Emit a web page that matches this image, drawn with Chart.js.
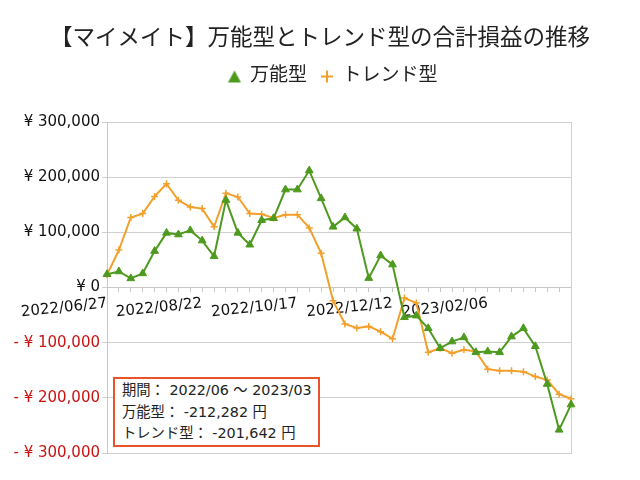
<!DOCTYPE html>
<html>
<head>
<meta charset="utf-8">
<script src="https://cdn.jsdelivr.net/npm/chart.js@4"></script>
<style>
  body { margin: 0; background: #fff; }
  #wrap { position: relative; width: 640px; height: 480px; }
  #note {
    position: absolute; left: 113px; top: 377px; width: 207px; height: 70px;
    box-sizing: border-box;
    border: 2px solid #e8532a; background: #fff;
    font-family: "DejaVu Sans", "Noto Sans CJK JP", sans-serif; font-size: 14.3px;
    color: #222; line-height: 21.5px; padding: 1px 0 0 7px; white-space: nowrap;
  }
</style>
</head>
<body>
<div id="wrap">
  <canvas id="c" width="640" height="480"></canvas>
  <div id="note">
    期間： 2022/06 ～ 2023/03<br>
    万能型： -212,282 円<br>
    トレンド型： -201,642 円
  </div>
</div>
<script>
var weeks = [
  "2022/06/27", "2022/07/04", "2022/07/11", "2022/07/18", "2022/07/25", "2022/08/01", "2022/08/08", "2022/08/15",
  "2022/08/22", "2022/08/29", "2022/09/05", "2022/09/12", "2022/09/19", "2022/09/26", "2022/10/03", "2022/10/10",
  "2022/10/17", "2022/10/24", "2022/10/31", "2022/11/07", "2022/11/14", "2022/11/21", "2022/11/28", "2022/12/05",
  "2022/12/12", "2022/12/19", "2022/12/26", "2023/01/02", "2023/01/09", "2023/01/16", "2023/01/23", "2023/01/30",
  "2023/02/06", "2023/02/13", "2023/02/20", "2023/02/27", "2023/03/06", "2023/03/13", "2023/03/20", "2023/03/27"
];

// 万能型
var allround = [
  24000, 29000, 16500, 25500, 66000, 99000, 96000, 103500, 85000, 56500,
  158500, 99000, 77500, 122000, 125500, 177500, 177500, 212000, 161500, 110000,
  127000, 106500, 17000, 58000, 41500, -54000, -51000, -74000, -110000, -98000,
  -90500, -117500, -116000, -117500, -89000, -74000, -106500, -175000, -258000, -212282
];

// トレンド型
var trend = [
  23000, 68000, 127000, 134000, 165000, 188000, 158000, 146000, 143000, 110000,
  171000, 164000, 134000, 133000, 126000, 132000, 132000, 108000, 62000, -24000,
  -66000, -73500, -70500, -80000, -93000, -19000, -28000, -117500, -110000, -119000,
  -113000, -116000, -148000, -151000, -151000, -152500, -161500, -167500, -193500, -201642
];

var yTicks = [-300000, -200000, -100000, 0, 100000, 200000, 300000];

var GREEN = "#4e9a1f";
var ORANGE = "#f2a02b";
var FONT = "'DejaVu Sans', 'Noto Sans CJK JP', sans-serif";

// small legend icons (the built-in cross is much bigger than the triangle)
function icon(kind, color) {
  var c = document.createElement("canvas");
  c.width = 14; c.height = 14;
  var g = c.getContext("2d");
  g.fillStyle = color; g.strokeStyle = color;
  if (kind === "tri") {
    g.beginPath(); g.moveTo(7, 1); g.lineTo(13.5, 13); g.lineTo(0.5, 13); g.closePath(); g.fill();
  } else {
    g.lineWidth = 2;
    g.beginPath(); g.moveTo(1, 7); g.lineTo(13, 7); g.moveTo(7, 1); g.lineTo(7, 13); g.stroke();
  }
  return c;
}
var legendIcons = [icon("tri", GREEN), icon("cross", ORANGE)];

// extra room under the legend, legend a bit right of centre
var legendTweak = {
  id: "legendTweak",
  beforeInit: function (chart) {
    var fit = chart.legend.fit;
    chart.legend.fit = function () {
      fit.call(this);
      this.height += 26;
    };
  },
  afterLayout: function (chart) {
    chart.legend.left += 13;
    chart.legend.right += 13;
  }
};

new Chart(document.getElementById("c"), {
  type: "line",
  data: {
    labels: weeks,
    datasets: [
      {
        label: "万能型",
        data: allround,
        borderColor: GREEN,
        backgroundColor: GREEN,
        borderWidth: 2,
        pointStyle: "triangle",
        pointRadius: 4.5,
        pointBorderWidth: 1,
        tension: 0
      },
      {
        label: "トレンド型",
        data: trend,
        borderColor: ORANGE,
        backgroundColor: ORANGE,
        borderWidth: 2,
        pointStyle: "cross",
        pointRadius: 3.5,
        pointBorderWidth: 1.5,
        tension: 0
      }
    ]
  },
  options: {
    responsive: false,
    animation: false,
    layout: { padding: { left: 0, right: 0, bottom: 27, top: 0 } },
    plugins: {
      title: {
        display: true,
        text: "【マイメイト】万能型とトレンド型の合計損益の推移",
        color: "#222",
        font: { family: FONT, size: 22.5, weight: "normal" },
        padding: { top: 26, bottom: 0 }
      },
      legend: {
        display: true,
        labels: {
          usePointStyle: true,
          boxWidth: 12,
          boxHeight: 12,
          color: "#222",
          font: { family: FONT, size: 19 },
          padding: 14,
          generateLabels: function (chart) {
            var items = Chart.defaults.plugins.legend.labels.generateLabels(chart);
            items.forEach(function (it, i) { it.pointStyle = legendIcons[i]; });
            return items;
          }
        }
      },
      tooltip: { enabled: false }
    },
    scales: {
      x: {
        position: { y: 0 },
        grid: { drawOnChartArea: false, drawTicks: true, tickLength: 4, color: "#c8c8c8" },
        border: { color: "#c8c8c8" },
        ticks: {
          autoSkip: false,
          minRotation: 6,
          maxRotation: 6,
          color: "#111",
          font: { family: FONT, size: 15 },
          padding: 3,
          callback: function (v, i) { return i % 8 === 0 ? weeks[i] : ""; }
        }
      },
      y: {
        min: yTicks[0],
        max: yTicks[yTicks.length - 1],
        afterBuildTicks: function (s) { s.ticks = yTicks.map(function (v) { return { value: v }; }); },
        afterFit: function (s) { s.width = 107; },
        grid: { color: "#d0d0d0", tickLength: 5 },
        border: { color: "#c8c8c8" },
        ticks: {
          color: function (c) { return c.tick.value < 0 ? "#cc1111" : "#111"; },
          font: { family: FONT, size: 15 },
          padding: 2,
          callback: function (v) {
            var s = Math.abs(v).toLocaleString("en-US");
            return v < 0 ? "- ¥ " + s : "¥ " + s;
          }
        }
      },
      // empty right axis: only its border closes the plot frame
      y2: {
        position: "right",
        min: yTicks[0],
        max: yTicks[yTicks.length - 1],
        afterFit: function (s) { s.width = 69; },
        grid: { drawOnChartArea: false, drawTicks: false },
        border: { color: "#d0d0d0" },
        ticks: { display: false }
      }
    }
  },
  plugins: [legendTweak]
});
</script>
</body>
</html>
